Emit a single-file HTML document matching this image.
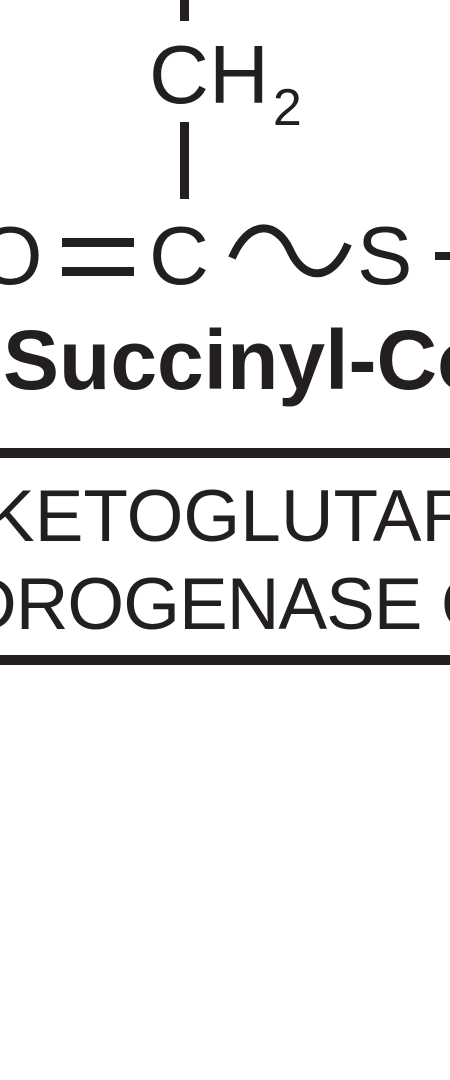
<!DOCTYPE html>
<html><head><meta charset="utf-8"><style>
html,body{margin:0;padding:0;background:#fff;}
#c{position:relative;width:450px;height:1080px;overflow:hidden;background:#fff;font-family:"Liberation Sans",sans-serif;color:#231f20;}
.t{position:absolute;white-space:nowrap;line-height:1;}
.b{position:absolute;background:#231f20;}
</style></head><body>
<div id="c">
<div class="b" style="left:180px;top:0;width:9px;height:21px"></div>
<div class="t" style="left:149px;top:33px;font-size:83px">CH<span style="font-size:52px;position:relative;top:22px;left:4px">2</span></div>
<div class="b" style="left:180px;top:122px;width:9px;height:77px"></div>
<div class="t" style="left:-22px;top:214px;font-size:83px">O</div>
<div class="b" style="left:62px;top:238px;width:72px;height:9px"></div>
<div class="b" style="left:62px;top:267px;width:72px;height:9px"></div>
<div class="t" style="left:149px;top:214px;font-size:83px">C</div>
<svg style="position:absolute;left:228px;top:222px" width="125" height="62"><path d="M4 36 C 20 -2, 48 -2, 62 28 C 76 60, 104 60, 120 22" fill="none" stroke="#231f20" stroke-width="8"/></svg>
<div class="t" style="left:357px;top:214px;font-size:83px">S</div>
<div class="b" style="left:435px;top:252px;width:20px;height:8px"></div>
<div class="t" style="left:3px;top:318px;font-size:84px;font-weight:bold">Succinyl-CoA</div>
<div class="b" style="left:0;top:448px;width:450px;height:10px"></div>
<div class="t" style="left:-14px;top:480px;font-size:73px">KETOGLUTARATE</div>
<div class="t" style="left:-36px;top:568px;font-size:73px;letter-spacing:-1px">DROGENASE COMPLEX</div>
<div class="b" style="left:0;top:655px;width:450px;height:10px"></div>
</div>
</body></html>
